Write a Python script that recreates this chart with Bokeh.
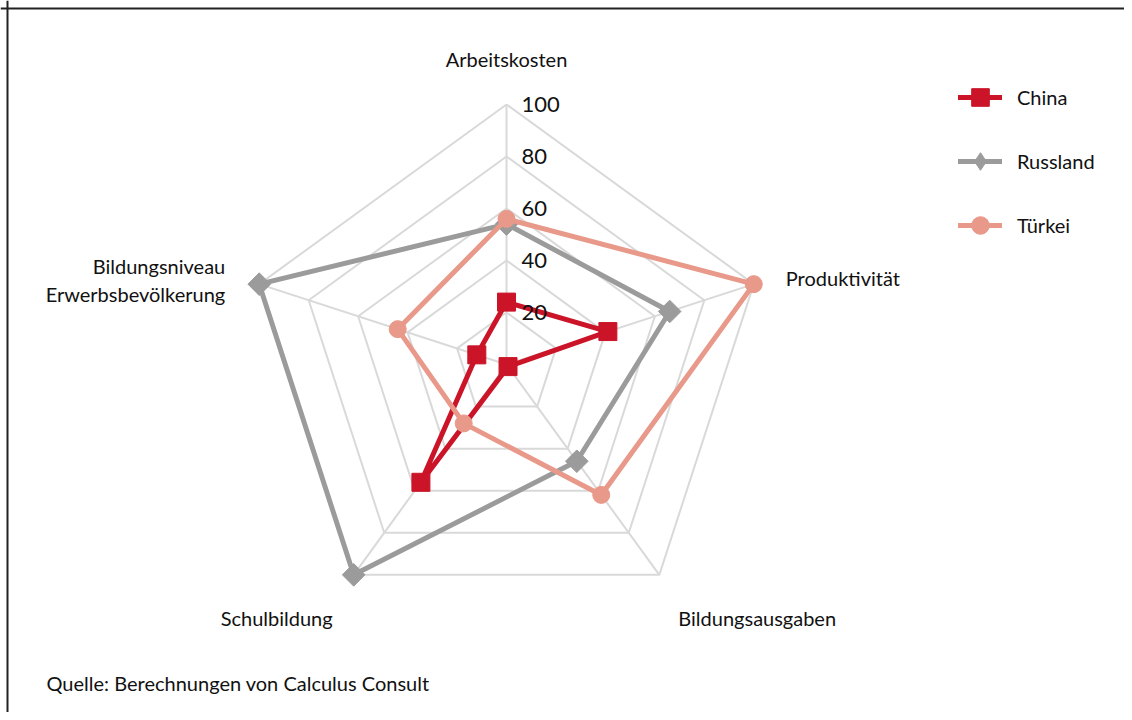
import numpy as np
from bokeh.plotting import figure
from bokeh.models import Range1d, Legend, LegendItem, Span, ColumnDataSource
from bokeh.core.properties import value
from bokeh.embed import file_html
from bokeh.resources import INLINE

# ---- data ----
axes_labels = ["Arbeitskosten", "Produktivität", "Bildungsausgaben", "Schulbildung",
               "Bildungsniveau\nErwerbsbevölkerung"]
china = [24, 41, 1, 56, 12]
russland = [54, 66, 46, 100, 100]
tuerkei = [56, 100, 62, 28, 44]
series_names = ["China", "Russland", "Türkei"]
ticks = [20, 40, 60, 80, 100]
source_note = "Quelle: Berechnungen von Calculus Consult"

FONT = "Lato"
W, H = 1124, 712
SCALE = 2.6          # px per unit
CX, CY = 506, 364    # center in figure px (from left / top)

n = len(axes_labels)
angles = np.deg2rad(90 - 72 * np.arange(n))


def polar(vals):
    v = np.asarray(vals, dtype=float)
    return list(v * np.cos(angles)), list(v * np.sin(angles))


p = figure(width=W, height=H,
           x_range=Range1d(-CX / SCALE, (W - CX) / SCALE),
           y_range=Range1d(-(H - CY) / SCALE, CY / SCALE),
           x_axis_location=None, y_axis_location=None,
           output_backend="svg", toolbar_location=None, min_border=0)
p.grid.visible = False
p.outline_line_color = None
p.background_fill_color = "white"
p.border_fill_color = "white"

# ---- grid ----
grid_col = "#d9d9d9"
for t in ticks:
    gx, gy = polar([t] * n)
    p.line(gx + [gx[0]], gy + [gy[0]], line_color=grid_col, line_width=2)
ox, oy = polar([100] * n)
p.segment(x0=[0] * n, y0=[0] * n, x1=ox, y1=oy, line_color=grid_col, line_width=2)

# ---- series ----
colors = ["#cb1428", "#9b9b9b", "#e8998a"]
markers = [("square", 18, 0.0), ("square", 16, np.pi / 4), ("circle", 17, 0.0)]
legend_markers = ["square", "diamond", "circle"]
items = []
for name, vals, col, (mk, sz, ang), lmk in zip(series_names, [china, russland, tuerkei],
                                               colors, markers, legend_markers):
    sx, sy = polar(vals)
    lr = p.line(sx + [sx[0]], sy + [sy[0]], line_color=col, line_width=5,
                line_join="round", line_cap="round")
    rs = [lr]
    if lmk != mk:
        # legend swatch shape (hidden under the rotated squares on the plot)
        rs.append(p.scatter(sx, sy, marker=lmk, size=18, fill_color=col, line_color=col))
    mr = p.scatter(sx, sy, marker=mk, size=sz, angle=ang, fill_color=col, line_color=col)
    if lmk == mk:
        rs.append(mr)
    items.append(LegendItem(label=name, renderers=rs))

# ---- tick labels ----
tsrc = ColumnDataSource(dict(x=[0] * len(ticks), y=ticks, t=[str(t) for t in ticks]))
p.text(x="x", y="y", text="t", source=tsrc, x_offset=15, text_align="left",
       text_baseline="middle", text_font=value(FONT), text_font_size="22px", text_color="#111111")

# ---- axis labels ----
lx, ly = polar([100] * n)
lab_specs = [
    (axes_labels[0], 0, -46, "center"),
    (axes_labels[1], 32, -6, "left"),
    (axes_labels[2], 19, 43, "left"),
    (axes_labels[3], -21, 43, "right"),
]
for i, (txt, xo, yo, al) in enumerate(lab_specs):
    p.text(x=[lx[i]], y=[ly[i]], text=[txt], x_offset=xo, y_offset=yo, text_align=al,
           text_baseline="middle", text_font=value(FONT), text_font_size="20px",
           text_color="#111111")
for k, line_txt in enumerate(axes_labels[4].split("\n")):
    p.text(x=[lx[4]], y=[ly[4]], text=[line_txt], x_offset=-34, y_offset=-18 + 28 * k,
           text_align="right", text_baseline="middle", text_font=value(FONT),
           text_font_size="20px", text_color="#111111")

# ---- source note ----
p.text(x=[p.x_range.start], y=[p.y_range.start], text=[source_note], x_offset=46, y_offset=-30,
       text_align="left", text_baseline="middle", text_font=value(FONT),
       text_font_size="20px", text_color="#111111")

# ---- frame lines (left / top) ----
p.add_layout(Span(location=p.x_range.start + 7 / SCALE, dimension="height",
                  line_color="#222222", line_width=2))
p.add_layout(Span(location=p.y_range.end - 8 / SCALE, dimension="width",
                  line_color="#222222", line_width=2))

# ---- legend ----
legend = Legend(items=items, location=(958, 465), glyph_width=44, glyph_height=44,
                spacing=20, label_standoff=15, padding=0, margin=0,
                border_line_color=None, background_fill_alpha=0,
                label_text_font=FONT, label_text_font_size="20px", label_text_color="#111111")
p.add_layout(legend)

open("out.html", "w").write(file_html(p, INLINE))
